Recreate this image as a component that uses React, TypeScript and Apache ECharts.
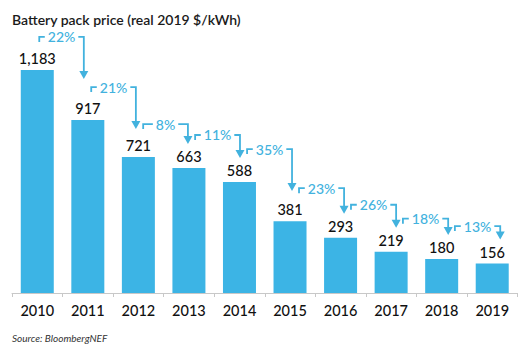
import React, { useEffect, useRef } from "react";
import * as echarts from "echarts";

const years = ["2010", "2011", "2012", "2013", "2014", "2015", "2016", "2017", "2018", "2019"];
const prices = [1183, 917, 721, 663, 588, 381, 293, 219, 180, 156];
const declines = ["22%", "21%", "8%", "11%", "35%", "23%", "26%", "18%", "13%"];

const titleText = "Battery pack price (real 2019 $/kWh)";
const sourceText = "Source: BloombergNEF";

const BAR = "#3cb4e5";
const ARROW = "#42b2de";
const FONT = "Lato, 'Noto Sans', sans-serif";

export default function App() {
  const ref = useRef<HTMLDivElement>(null);
  useEffect(() => {
    if (!ref.current) return;
    const chart = echarts.init(ref.current, undefined, { renderer: "svg" });
    const arrowData = declines.map((p, i) => [i, prices[i], prices[i + 1]]);
    chart.setOption({
      animation: false,
      backgroundColor: "#ffffff",
      title: {
        text: titleText,
        left: 12,
        top: 12,
        padding: 0,
        textStyle: { fontFamily: FONT, fontSize: 14, fontWeight: 600, color: "#1a1a1a" },
      },
      graphic: [
        {
          type: "text",
          left: 12,
          top: 333,
          style: {
            text: sourceText,
            fontFamily: FONT,
            fontSize: 10,
            fontStyle: "italic",
            fill: "#333",
          },
        },
      ],
      grid: { left: 12, right: 13.5, top: 29, bottom: 58 },
      xAxis: {
        type: "category",
        data: years,
        axisLine: { lineStyle: { color: "#c8c8c8", width: 1 } },
        axisTick: { show: true, length: 4, lineStyle: { color: "#c8c8c8" } },
        axisLabel: {
          margin: 10,
          fontFamily: FONT,
          fontSize: 14.5,
          fontWeight: 500,
          color: "#111",
        },
      },
      yAxis: {
        type: "value",
        min: 0,
        max: 1400,
        show: false,
        splitLine: { show: false },
      },
      series: [
        {
          type: "bar",
          data: prices,
          barWidth: 33,
          itemStyle: { color: BAR },
          label: {
            show: true,
            position: "top",
            distance: 4,
            fontFamily: FONT,
            fontSize: 14.5,
            fontWeight: 500,
            color: "#111",
            formatter: (p: any) => Number(p.value).toLocaleString("en-US"),
          },
        },
        {
          type: "custom",
          silent: true,
          z: 5,
          data: arrowData,
          encode: { x: 0, y: 1 },
          renderItem: (params: any, api: any) => {
            const i = params.dataIndex;
            const a = api.coord([i, api.value(1)]);
            const b = api.coord([i + 1, api.value(2)]);
            const lineY = a[1] - 33;
            const tipY = Math.min(b[1] - 24, lineY + 42);
            const xL = a[0] + 2 + i * 1.4;
            const xR = b[0] - 4 + i * 1.5;
            return {
              type: "group",
              children: [
                {
                  type: "polyline",
                  shape: {
                    points: [
                      [xL, lineY + 5],
                      [xL, lineY],
                      [xR, lineY],
                      [xR, tipY - 6],
                    ],
                  },
                  style: { stroke: ARROW, lineWidth: 1.8, fill: "none" },
                },
                {
                  type: "polygon",
                  shape: {
                    points: [
                      [xR - 4.5, tipY - 8],
                      [xR + 4.5, tipY - 8],
                      [xR, tipY],
                    ],
                  },
                  style: { fill: ARROW },
                },
                {
                  type: "text",
                  x: (xL + xR) / 2,
                  y: lineY,
                  style: {
                    text: declines[i],
                    align: "center",
                    verticalAlign: "middle",
                    fontFamily: FONT,
                    fontSize: 14,
                    fontWeight: 500,
                    fill: ARROW,
                    backgroundColor: "#ffffff",
                    padding: [0, 3],
                  },
                },
              ],
            };
          },
        },
      ],
    });
    return () => chart.dispose();
  }, []);
  return (
    <div
      ref={ref}
      style={{ position: "fixed", left: 0, top: 0, width: 531, height: 351 }}
    />
  );
}
